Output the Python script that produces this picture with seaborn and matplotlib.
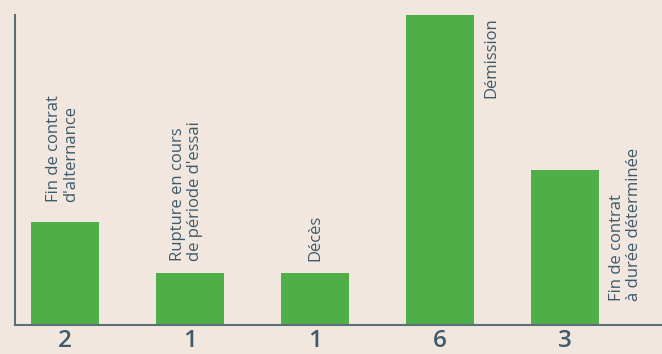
import matplotlib
matplotlib.use("Agg")
import matplotlib.pyplot as plt
import seaborn as sns
import pandas as pd

categories = ["Fin de contrat\nd'alternance",
              "Rupture en cours\nde période d'essai",
              "Décès",
              "Démission",
              "Fin de contrat\nà durée déterminée"]
values = [2, 1, 1, 6, 3]
value_labels = ["2", "1", "1", "6", "3"]

BG = "#f1e7de"
GREEN = "#4fae48"
TEXT = "#3e5a6b"
SPINE = "#5b6e7b"

sns.set_theme(style="white")
plt.rcParams['font.family'] = ['Open Sans', 'DejaVu Sans']

fig = plt.figure(figsize=(6.62, 3.54), dpi=100)
fig.patch.set_facecolor(BG)
ax = fig.add_axes([15/662, 29/354, 647/662, 310/354])
ax.set_facecolor(BG)

df = pd.DataFrame({"cat": categories, "val": values})
sns.barplot(data=df, x="cat", y="val", color=GREEN, saturation=1,
            width=0.54, linewidth=0, ax=ax)

ax.set_xlim(-0.40, 4.776)
ax.set_ylim(0, 6)
ax.set_xlabel("")
ax.set_ylabel("")
ax.set_yticks([])
ax.set_xticks(range(len(values)))
ax.set_xticklabels(value_labels, fontsize=17.5, color=TEXT, fontweight=600)
ax.tick_params(axis="x", length=0, pad=3)
for s in ["top", "right"]:
    ax.spines[s].set_visible(False)
for s in ["left", "bottom"]:
    ax.spines[s].set_color(SPINE)
    ax.spines[s].set_linewidth(1.5)

# label placement: (anchor at bar top / axis top / base, x offset px, y offset px, ha)
placements = [
    ("top", -2.5, 20, "left"),
    ("top", -3.5, 12, "left"),
    ("top", 0.5, 12, "left"),
    ("axtop", 51.5, -2, "right"),
    ("base", 60.5, 24, "left"),
]
for i, (cat, v, (where, dx, dy, ha)) in enumerate(zip(categories, values, placements)):
    if where == "top":
        y = v
    elif where == "axtop":
        y = 6
    else:
        y = 0
    ax.annotate(cat, xy=(i, y), xytext=(dx, dy), textcoords="offset pixels",
                rotation=90, rotation_mode="anchor", ha=ha, va="center",
                multialignment="left", fontsize=12, color=TEXT,
                linespacing=1.05, annotation_clip=False)

fig.savefig("out.png", dpi=100, facecolor=BG)
